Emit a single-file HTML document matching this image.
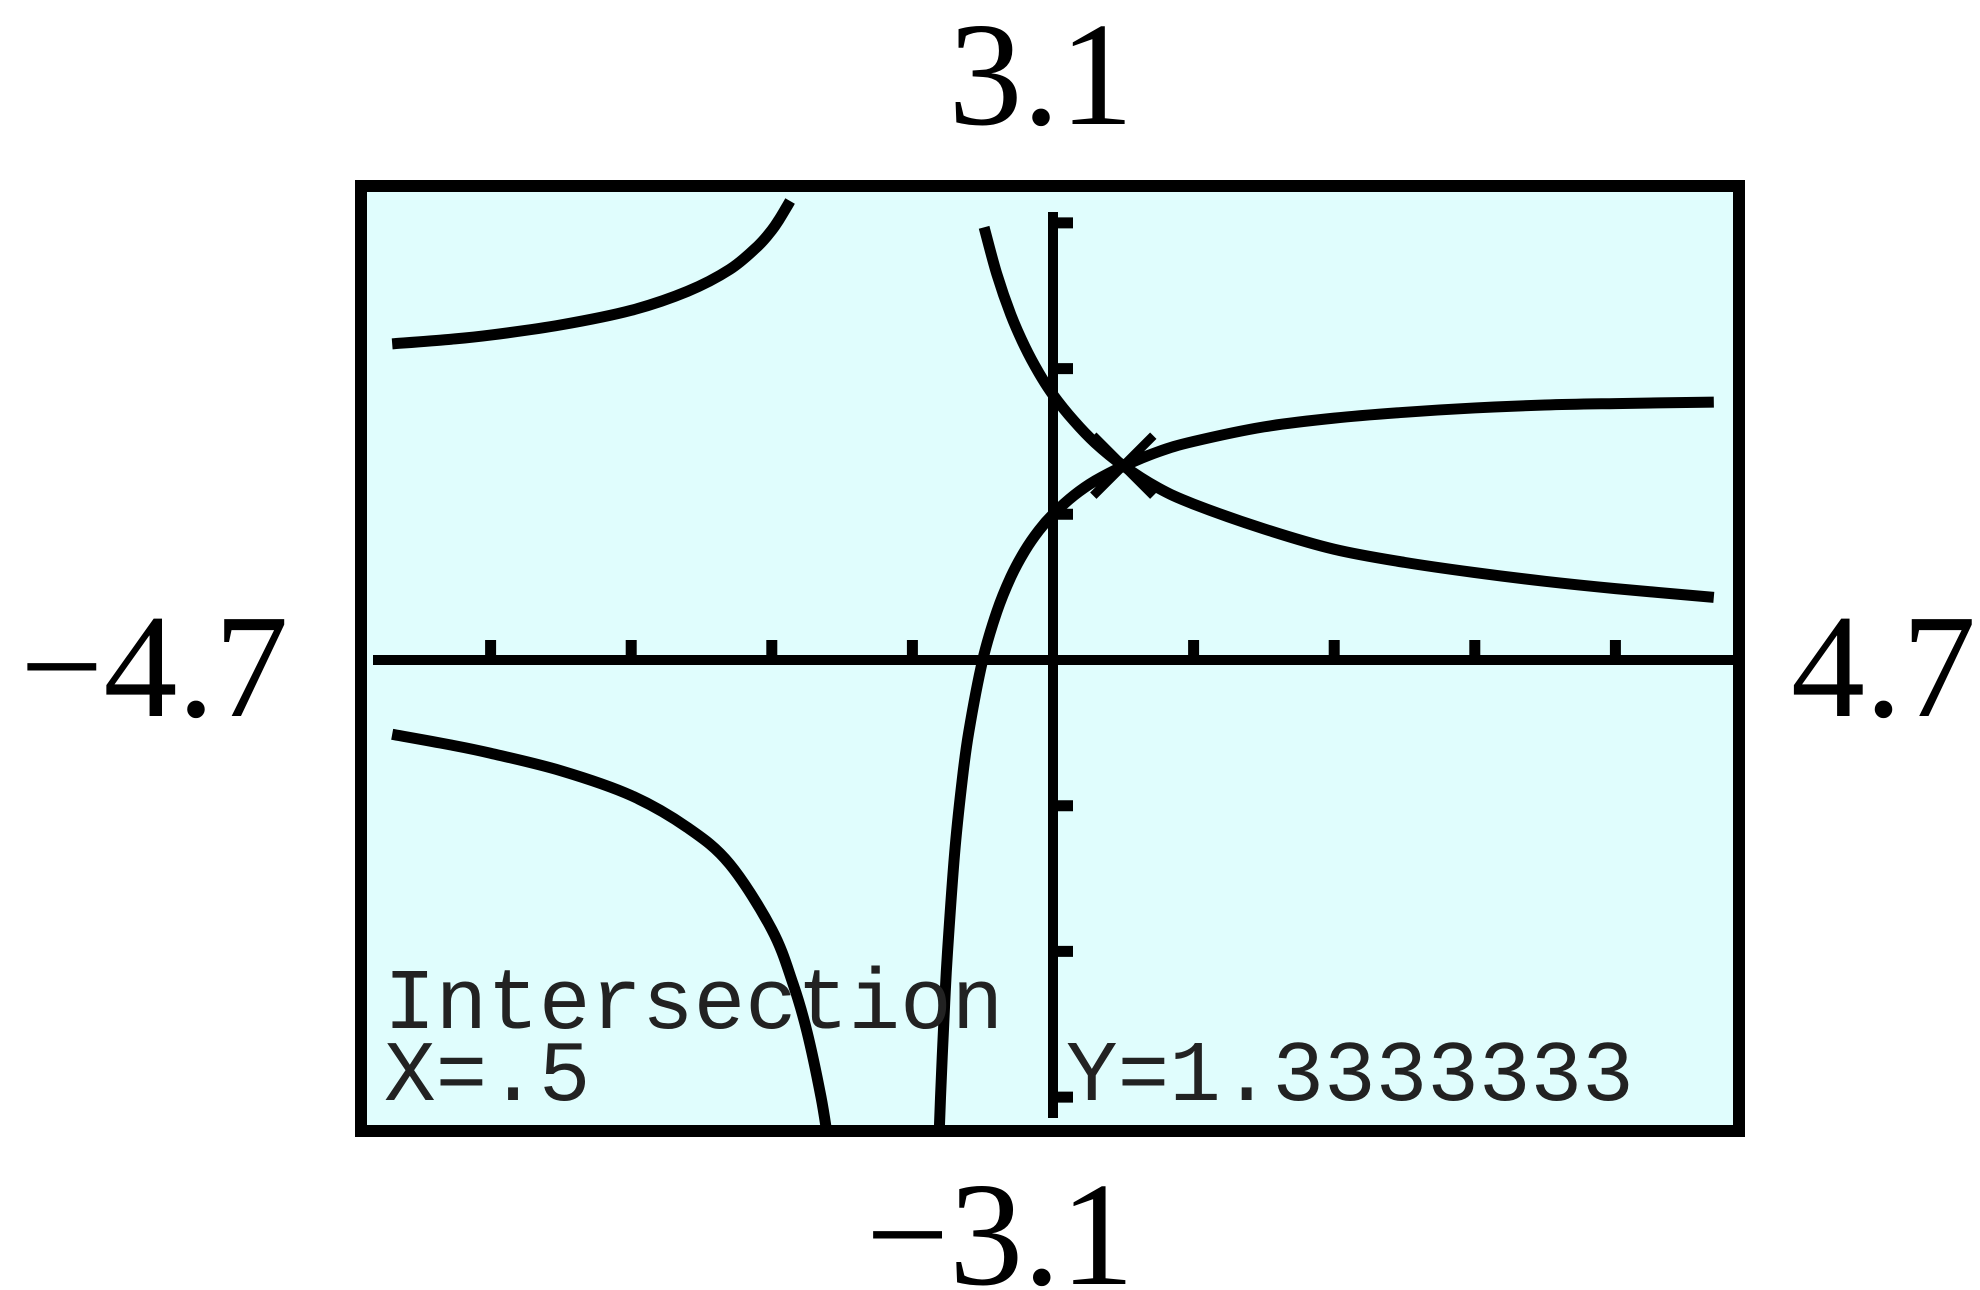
<!DOCTYPE html>
<html><head><meta charset="utf-8"><style>
html,body{margin:0;padding:0;background:#fff;}
svg{display:block;}
.lbl{font-family:"Liberation Serif",serif;font-size:148px;fill:#000;}
.calc{font-family:"Liberation Mono",monospace;font-size:86px;fill:#222;}
</style></head><body>
<svg id="chart" width="1980" height="1290" viewBox="0 0 1980 1290">
<defs><clipPath id="clip"><rect x="366" y="191" width="1368" height="935"/></clipPath></defs>
<rect x="361" y="186" width="1378" height="945" fill="#e0fdfd" stroke="#000" stroke-width="12"/>
<text class="lbl" x="1041" y="124" text-anchor="middle">3.1</text>
<text class="lbl" x="1000" y="1284" text-anchor="middle">−3.1</text>
<text class="lbl" x="20" y="716">−4.7</text>
<text class="lbl" x="1976" y="716" text-anchor="end">4.7</text>
<g id="axes"></g>
<g id="curves" clip-path="url(#clip)"></g>
<text class="calc" x="384" y="1028">Intersection</text>
<text class="calc" x="384" y="1100">X=.5</text>
<text class="calc" x="1066" y="1100">Y=1.3333333</text>
</svg>
<script>
const xTicks=[-4,-3,-2,-1,1,2,3,4];
const yTicks=[-3,-2,-1,1,2,3];
const f1LeftX=[-4.7,-4.3,-4,-3.5,-3,-2.6,-2.3,-2.1,-2,-1.95,-1.9,-1.87];
const f1LeftY=[2.17,2.2,2.23,2.3,2.4,2.53,2.68,2.84,2.95,3.02,3.1,3.15];
const f1RightX=[-0.84,-0.82,-0.8,-0.77,-0.75,-0.7,-0.65,-0.6,-0.5,-0.4,-0.3,-0.2,-0.1,0,0.15,0.3,0.5,0.75,1,1.5,2,2.5,3,3.5,4,4.7];
const f1RightY=[-4.25,-3.56,-3.0,-2.35,-2.0,-1.33,-0.86,-0.5,0,0.33,0.57,0.75,0.89,1,1.13,1.23,1.33,1.43,1.5,1.6,1.66,1.7,1.73,1.75,1.76,1.77];
const g1LeftX=[-4.7,-4.3,-4,-3.5,-3,-2.6,-2.3,-2,-1.85,-1.75,-1.65,-1.6];
const g1LeftY=[-0.51,-0.58,-0.64,-0.76,-0.93,-1.15,-1.40,-1.85,-2.22,-2.55,-3.0,-3.3];
const g1RightX=[-0.49,-0.4,-0.3,-0.2,-0.1,0,0.15,0.3,0.5,0.75,1,1.5,2,2.5,3,3.5,4,4.7];
const g1RightY=[2.97,2.65,2.37,2.15,1.97,1.82,1.64,1.49,1.333,1.18,1.07,0.9,0.76,0.67,0.6,0.54,0.49,0.43];
const intersect=[0.5,1.3333333];

const NS="http://www.w3.org/2000/svg";
const X=x=>1053+x*140.6, Y=y=>660-y*145.7;
const axes=document.getElementById('axes'), curves=document.getElementById('curves');
function mk(tag,parent,attrs){const e=document.createElementNS(NS,tag);for(const k in attrs)e.setAttribute(k,attrs[k]);parent.appendChild(e);return e;}
let e=mk('line',axes,{x1:373,x2:1734,y1:Y(0),y2:Y(0),stroke:'#000','stroke-width':10});


e=mk('line',axes,{x1:X(0),x2:X(0),y1:212,y2:1118,stroke:'#000','stroke-width':10});


xTicks.forEach(t=>{const l=mk('line',axes,{x1:X(t),x2:X(t),y1:Y(0),y2:Y(0)-20,stroke:'#000','stroke-width':11});

});
yTicks.forEach(t=>{const l=mk('line',axes,{x1:X(0),x2:X(0)+20,y1:Y(t),y2:Y(t),stroke:'#000','stroke-width':11});

});
function draw(xs,ys,name){
  const pts=xs.map((x,i)=>[X(x),Y(ys[i])]);
  let d='M'+pts[0][0]+','+pts[0][1];
  for(let i=0;i<pts.length-1;i++){
    const p0=pts[i-1]||pts[i],p1=pts[i],p2=pts[i+1],p3=pts[i+2]||p2;
    const c1=[p1[0]+(p2[0]-p0[0])/6,p1[1]+(p2[1]-p0[1])/6],c2=[p2[0]-(p3[0]-p1[0])/6,p2[1]-(p3[1]-p1[1])/6];
    d+=` C${c1[0]},${c1[1]} ${c2[0]},${c2[1]} ${p2[0]},${p2[1]}`;
  }
  const p=mk('path',curves,{d:d,fill:'none',stroke:'#000','stroke-width':11,'stroke-linecap':'butt','stroke-linejoin':'round'});
  
  
}
draw(f1LeftX,f1LeftY,'curve-f-left-branch');
draw(f1RightX,f1RightY,'curve-f-right-branch');
draw(g1LeftX,g1LeftY,'curve-g-left-branch');
draw(g1RightX,g1RightY,'curve-g-right-branch');
const cx=X(intersect[0]),cy=Y(intersect[1]);
const m=mk('path',curves,{d:`M${cx-30},${cy+30}L${cx+30},${cy-30}M${cx-30},${cy-30}L${cx+30},${cy+30}`,stroke:'#000','stroke-width':9,fill:'none'});


</script>
</body></html>
